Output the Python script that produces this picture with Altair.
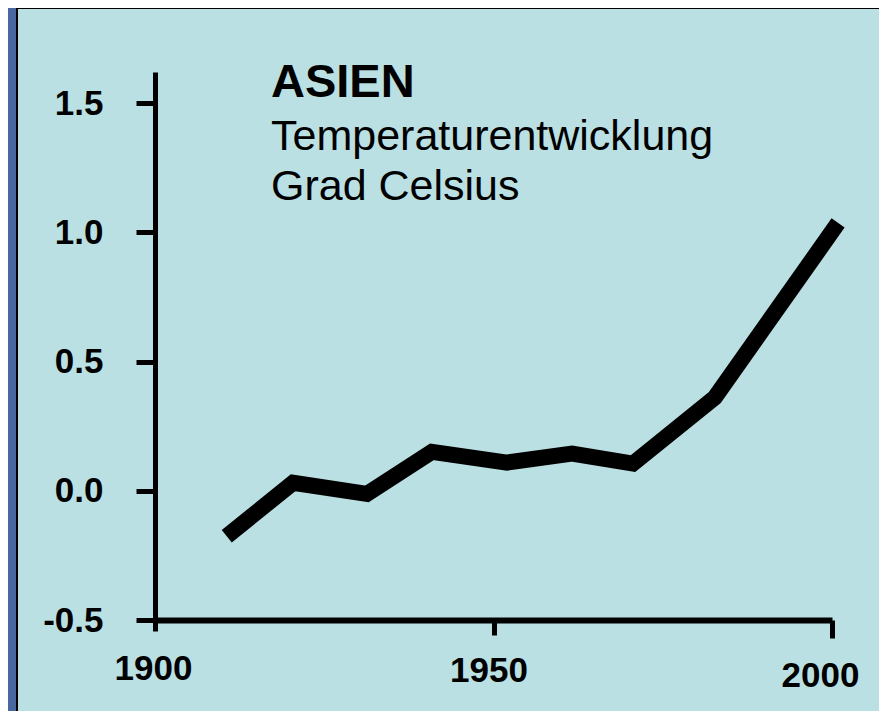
import altair as alt
import pandas as pd

# Data
years = [1910.6, 1920.4, 1931.3, 1940.9, 1952.0, 1961.6, 1970.6, 1982.7, 2000.9]
temps = [-0.176, 0.031, -0.012, 0.151, 0.109, 0.144, 0.105, 0.361, 1.036]
y_ticks = [-0.5, 0.0, 0.5, 1.0, 1.5]
x_ticks = [1900, 1950, 2000]
title_lines = ["ASIEN", "Temperaturentwicklung", "Grad Celsius"]

FONT = "Liberation Sans"
W, H = 677, 548

df = pd.DataFrame({"Jahr": years, "Temp": temps})
one = pd.DataFrame({"a": [0]})

panel = alt.Chart(one).mark_rect(
    fill="#bae0e3", stroke="#000000", strokeWidth=2
).encode(
    x=alt.value(-138), x2=alt.value(730), y=alt.value(-64), y2=alt.value(650)
)

x_label_offset = {
    "condition": [
        {"test": "datum.value == 2000", "value": -12},
        {"test": "datum.value == 1950", "value": -5},
    ],
    "value": -2,
}
x_label_padding = {
    "condition": [
        {"test": "datum.value == 2000", "value": 20},
        {"test": "datum.value == 1900", "value": 20},
    ],
    "value": 18,
}
x_tick_size = {
    "condition": [
        {"test": "datum.value == 2000", "value": 18},
        {"test": "datum.value == 1900", "value": 11},
    ],
    "value": 15,
}

line = alt.Chart(df).mark_line(
    color="#000000", strokeWidth=16, strokeJoin="miter", strokeCap="butt"
).encode(
    x=alt.X("Jahr:Q",
            scale=alt.Scale(domain=[1900, 2000], nice=False, zero=False),
            axis=alt.Axis(values=x_ticks, format="d", title=None, grid=False,
                          domainColor="#000000", domainWidth=6,
                          tickColor="#000000", tickWidth=5, tickSize=x_tick_size,
                          labelFont=FONT, labelFontSize=35, labelFontWeight="bold",
                          labelColor="#000000", labelPadding=x_label_padding,
                          labelOffset=x_label_offset, labelFlush=False,
                          zindex=1)),
    y=alt.Y("Temp:Q",
            scale=alt.Scale(domain=[-0.5, 1.62], nice=False, zero=False),
            axis=alt.Axis(values=y_ticks, format=".1f", title=None, grid=False,
                          labelExpr="replace(datum.label, '\u2212', '-')",
                          domainColor="#000000", domainWidth=5,
                          tickColor="#000000", tickWidth=5, tickSize=19,
                          labelFont=FONT, labelFontSize=35, labelFontWeight="bold",
                          labelColor="#000000", labelPadding=33, labelFlush=False,
                          zindex=1)),
)

t1 = alt.Chart(one).mark_text(
    text=title_lines[0], font=FONT, fontSize=47, fontWeight="bold",
    align="left", baseline="alphabetic", color="#000000"
).encode(x=alt.value(116), y=alt.value(25))

t2 = alt.Chart(one).mark_text(
    text=title_lines[1], font=FONT, fontSize=43,
    align="left", baseline="alphabetic", color="#000000"
).encode(x=alt.value(116), y=alt.value(78))

t3 = alt.Chart(one).mark_text(
    text=title_lines[2], font=FONT, fontSize=43,
    align="left", baseline="alphabetic", color="#000000"
).encode(x=alt.value(116), y=alt.value(128))

chart = alt.layer(panel, line, t1, t2, t3).properties(
    width=W, height=H,
    autosize=alt.AutoSizeParams(type="none"),
    padding={"left": 147, "top": 64, "right": 47, "bottom": 91},
).configure(background="#4a68a0").configure_view(strokeWidth=0, fill=None)

chart.save("out.html", embed_options={"renderer": "svg", "actions": False})
